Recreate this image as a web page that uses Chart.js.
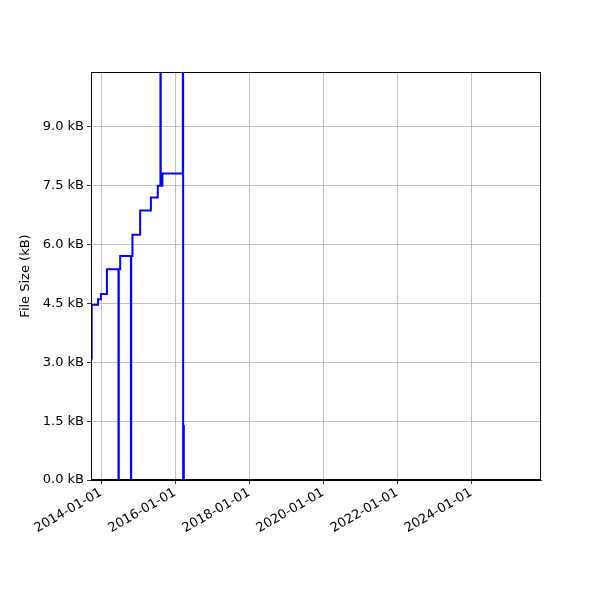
<!DOCTYPE html>
<html>
<head>
<meta charset="utf-8">
<script src="https://cdn.jsdelivr.net/npm/chart.js@4/dist/chart.umd.min.js"></script>
<style>
html,body{margin:0;padding:0;background:#fff}
#wrap{width:600px;height:600px}
</style>
</head>
<body>
<div id="wrap"><canvas id="c" width="600" height="600"></canvas></div>
<script>
// commit dates and file size (kB)
let dates=["2013-09-27","2013-10-01","2013-12-02","2013-12-31","2014-02-28","2014-06-22","2014-06-25","2014-07-09","2014-10-23","2014-10-26","2014-11-07","2015-01-22","2015-05-08","2015-07-15","2015-08-10","2015-08-13","2015-08-30","2016-03-18","2016-03-21","2016-03-28"]
let sizes=[3.1,4.47,4.61,4.74,5.37,0,5.37,5.71,0,5.71,6.25,6.87,7.2,7.5,14,7.5,7.81,14,0,1.4]

let tickDates=["2014-01-01","2016-01-01","2018-01-01","2020-01-01","2022-01-01","2024-01-01"]
let xMinDate="2013-09-24"
let xMaxDate="2025-11-20"
let yTicks=[0,1.5,3,4.5,6,7.5,9]
let yMax=10.4

function ts(s){
let p=s.split("-")
return Date.UTC(+p[0],+p[1]-1,+p[2])
}

let points=dates.map((d,i)=>({x:ts(d),y:sizes[i]}))
let tickVals=tickDates.map(ts)

Chart.defaults.font.family="'DejaVu Sans'"
Chart.defaults.font.size=13
Chart.defaults.color="#000"

new Chart(document.getElementById("c"),{
type:"line",
data:{
datasets:[{
data:points,
borderColor:"#0000ff",
borderWidth:2,
pointRadius:0,
stepped:true,
fill:false
}]
},
options:{
responsive:false,
animation:false,
plugins:{legend:{display:false},tooltip:{enabled:false}},
layout:{padding:{left:18,top:72,right:59,bottom:0}},
scales:{
x:{
type:"linear",
min:ts(xMinDate),
max:ts(xMaxDate),
afterBuildTicks:(ax)=>{ax.ticks=tickVals.map(v=>({value:v}))},
afterFit:(ax)=>{ax.height=120},
ticks:{
minRotation:30,
maxRotation:30,
padding:1,
callback:(v)=>{let i=tickVals.indexOf(v);return i>=0?tickDates[i]:""}
},
grid:{color:"#b0b0b0",lineWidth:0.8,tickColor:"#000",tickLength:4},
border:{color:"#000",width:1}
},
y:{
min:0,
max:yMax,
afterBuildTicks:(ax)=>{ax.ticks=yTicks.map(v=>({value:v}))},
afterFit:(ax)=>{ax.width=73},
ticks:{
padding:3,
callback:(v)=>v.toFixed(1)+" kB"
},
title:{display:true,text:"File Size (kB)",padding:{top:0,bottom:0}},
grid:{color:"#b0b0b0",lineWidth:0.8,tickColor:"#000",tickLength:4},
border:{color:"#000",width:1}
}
}
},
plugins:[{
id:"frame",
afterDraw(ch){
let a=ch.chartArea,ctx=ch.ctx
ctx.save()
ctx.strokeStyle="#000"
ctx.lineWidth=1
ctx.strokeRect(a.left+0.5,a.top+0.5,a.right-a.left-1,a.bottom-a.top-1)
ctx.restore()
}
}]
})
</script>
</body>
</html>
